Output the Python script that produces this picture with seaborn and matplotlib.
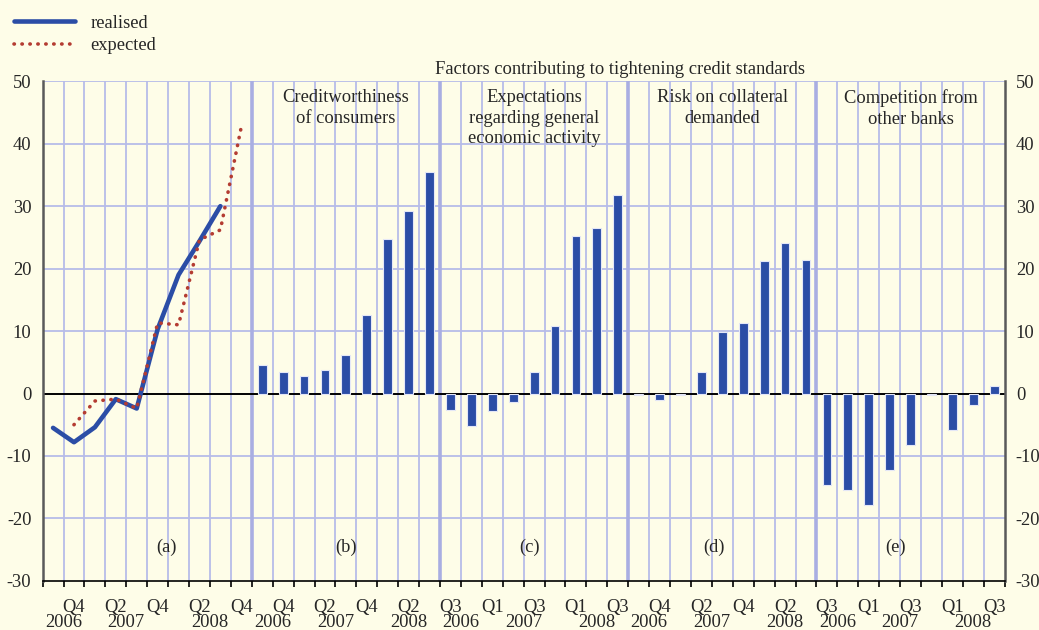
import numpy as np
import pandas as pd
import matplotlib.pyplot as plt
import matplotlib.transforms as mtransforms
import seaborn as sns

# Panel (a): realised vs expected, Q3 2006 - Q4 2008
realised = [-5.5, -7.8, -5.4, -0.9, -2.4, 10.3, 19.0, 24.4, 30.0]   # Q3 2006 .. Q3 2008
expected = [-5.0, -1.2, -0.9, -2.4, 11.3, 11.0, 24.6, 26.2, 42.7]   # Q4 2006 .. Q4 2008

# Panels (b)-(e): factors, Q3 2006 - Q3 2008
creditworthiness = [4.5, 3.5, 2.8, 3.8, 6.2, 12.5, 24.8, 29.2, 35.4]
expectations = [-2.7, -5.2, -2.8, -1.3, 3.4, 10.8, 25.3, 26.5, 31.8]
collateral = [-0.3, -1.0, -0.3, 3.5, 9.9, 11.3, 21.2, 24.1, 21.3]
competition = [-14.6, -15.4, -17.9, -12.2, -8.3, -0.3, -5.8, -1.8, 1.2]

panel_titles = ['Creditworthiness\nof consumers',
                'Expectations\nregarding general\neconomic activity',
                'Risk on collateral\ndemanded',
                'Competition from\nother banks']
panel_letters = ['(a)', '(b)', '(c)', '(d)', '(e)']
panel_quarters = [10, 9, 9, 9, 9]
# which quarters get a label on the x axis in each panel
shown_quarters = [(4, 2), (4, 2), (3, 1), (4, 2), (3, 1)]
title = 'Factors contributing to tightening credit standards'

bg = '#fefde8'
grid_col = '#b7bce8'
sep_col = '#a9aee2'
blue = '#2b4da6'
red = '#b43c32'

sns.set_style('ticks')
plt.rcParams['font.family'] = ['Liberation Serif', 'DejaVu Serif']
plt.rcParams['axes.unicode_minus'] = False
fs = 13.3

fig, ax = plt.subplots(figsize=(10.39, 6.30), dpi=100)
fig.subplots_adjust(left=0.041, right=0.967, bottom=0.078, top=0.871)
fig.patch.set_facecolor(bg)
ax.set_facecolor(bg)

offsets = np.cumsum([0] + panel_quarters[:-1])
n_total = sum(panel_quarters)

# bars for panels b-e
bar_series = [creditworthiness, expectations, collateral, competition]
pos, vals = [], []
for k, s in enumerate(bar_series):
    pos += list(offsets[k + 1] + np.arange(len(s)))
    vals += s
bars = pd.DataFrame({'pos': pos, 'value': vals})
sns.barplot(data=bars, x='pos', y='value', native_scale=True, width=0.42,
            color=blue, saturation=1, edgecolor='#e4e7f7', linewidth=0.8,
            errorbar=None, ax=ax, zorder=3)

# lines for panel a
sns.lineplot(x=np.arange(len(realised)), y=realised, color=blue, lw=3.3,
             label='realised', ax=ax, zorder=4)
sns.lineplot(x=np.arange(1, len(expected) + 1), y=expected, color=red, lw=2.6,
             linestyle=(0, (0.1, 2.1)), dash_capstyle='round',
             label='expected', ax=ax, zorder=5)
handles, labels = ax.get_legend_handles_labels()
if ax.get_legend() is not None:
    ax.get_legend().remove()

ax.set_xlim(-0.5, n_total - 0.5)
ax.set_ylim(-30, 50)
ax.set_xlabel('')
ax.set_ylabel('')

# grid
for y in range(-20, 51, 10):
    if y != 0:
        ax.axhline(y, color=grid_col, lw=1.3, zorder=1)
ax.axhline(0, color='black', lw=1.4, zorder=2)
seps = set(offsets[1:] - 0.5)
for b in np.arange(0.5, n_total - 0.5, 1.0):
    if b in seps:
        ax.axvline(b, color=sep_col, lw=2.6, zorder=1)
    else:
        ax.axvline(b, color=grid_col, lw=1.3, zorder=1)

# axes styling
ax.set_yticks(range(-30, 51, 10))
ax.tick_params(axis='y', length=0, labelleft=True, labelright=True,
               labelsize=fs, pad=8)
ax.set_xticks(np.arange(-0.5, n_total, 1.0))
ax.set_xticklabels([])
ax.tick_params(axis='x', direction='out', length=4, width=1.2, color='black')
ax.spines['top'].set_visible(False)
for side in ['left', 'right']:
    ax.spines[side].set_visible(True)
    ax.spines[side].set_color('#5a5a5a')
    ax.spines[side].set_linewidth(1.8)
ax.spines['bottom'].set_color('black')
ax.spines['bottom'].set_linewidth(1.2)

# x labels: quarters and years
trans = mtransforms.blended_transform_factory(ax.transData, ax.transAxes)
for k, n in enumerate(panel_quarters):
    periods = pd.period_range('2006Q3', periods=n, freq='Q')
    for i, p in enumerate(periods):
        if p.quarter in shown_quarters[k]:
            ax.text(offsets[k] + i, -0.062, f'Q{p.quarter}', transform=trans,
                    ha='center', va='baseline', fontsize=fs)
    for yr in sorted(set(periods.year)):
        idx = [i for i, p in enumerate(periods) if p.year == yr]
        ax.text(offsets[k] + np.mean(idx), -0.093, str(yr), transform=trans,
                ha='center', va='baseline', fontsize=fs, clip_on=False)

# panel headers and letters
for k, t in enumerate(panel_titles):
    cx = offsets[k + 1] + (panel_quarters[k + 1] - 1) / 2
    ax.text(cx, 0.984, t, transform=trans, ha='center', va='top', fontsize=fs,
            linespacing=1.27, zorder=6)
letter_x = [5.4, 14.0, 22.8, 31.6, 40.3]
for x, t in zip(letter_x, panel_letters):
    ax.text(x, -24.7, t, ha='center', va='center', fontsize=fs)
ax.text(27.1, 1.015, title, transform=trans, ha='center', va='baseline',
        fontsize=fs)

fig.legend(handles, labels, loc='upper left', bbox_to_anchor=(0.0067, 0.988),
           frameon=False, fontsize=fs, handlelength=3.3, handletextpad=0.8,
           labelspacing=0.28, borderaxespad=0)

fig.savefig('out.png', dpi=100, facecolor=bg)
plt.close()
